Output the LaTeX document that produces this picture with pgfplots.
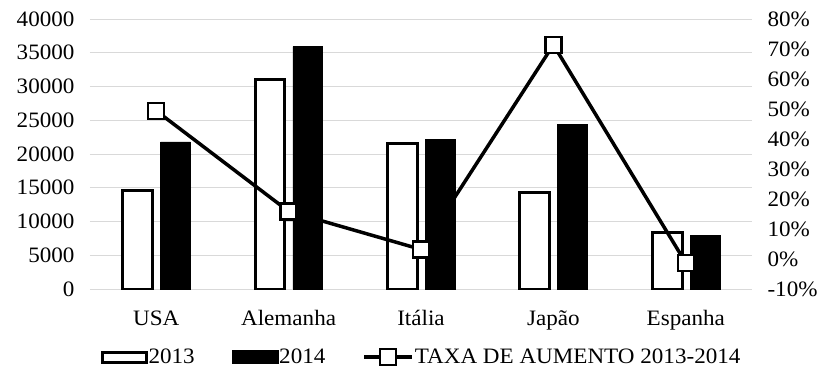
\documentclass[border=0pt]{standalone}
\usepackage{pgfplots}
\pgfplotsset{compat=1.18}
\usepackage{fontspec}
\setmainfont[FakeStretch=1.05]{Liberation Serif}

\newcommand{\chartfont}{\fontsize{22bp}{26bp}\selectfont}

\begin{document}
\begin{tikzpicture}
% Bars for 2013 and 2014, left axis
\begin{axis}[
  name=main,
  scale only axis, width=662bp, height=270bp,
  xmin=-0.5, xmax=4.5, ymin=0, ymax=40000,
  scaled y ticks=false,
  axis x line*=bottom, axis y line*=left,
  axis line style={draw=none}, tick style={draw=none},
  xtick={0,1,2,3,4},
  xticklabels={USA,Alemanha,Itália,Japão,Espanha},
  ytick={0,5000,...,40000},
  yticklabels={0,5000,10000,15000,20000,25000,30000,35000,40000},
  ymajorgrids, grid style={draw=black!15, line width=1bp},
  tick label style={font=\chartfont},
  xticklabel style={yshift=-18bp},
  yticklabel style={xshift=-12bp},
  legend columns=-1,
  legend style={at={(0.5,-0.252)}, anchor=center, draw=none, fill=none,
    inner sep=0pt, font=\chartfont, nodes={inner sep=1bp},
    /tikz/every even column/.append style={column sep=36bp}},
]
\addplot[ybar, bar width=0.225, bar shift=-0.14, fill=white, draw=black, line width=3bp,
  legend image code/.code={\draw[fill=white,draw=black,line width=3bp] (0bp,-5bp) rectangle (44bp,5bp);}]
  coordinates {(0,14600) (1,31000) (2,21600) (3,14300) (4,8300)};
\addplot[ybar, bar width=0.225, bar shift=0.145, fill=black, draw=black, line width=0.5bp,
  legend image code/.code={\fill[black] (0bp,-6.5bp) rectangle (46bp,6.5bp);}]
  coordinates {(0,21800) (1,35900) (2,22200) (3,24400) (4,8000)};
\addlegendimage{legend image code/.code={
  \draw[black,line width=3.5bp] (0bp,0bp) -- (48bp,0bp);
  \draw[fill=white,draw=black,line width=2.5bp] (16bp,-8bp) rectangle (32bp,8bp);}}
\legend{2013,2014,TAXA DE AUMENTO 2013-2014}
\end{axis}

% Growth rate line, right axis
\begin{axis}[
  scale only axis, width=662bp, height=270bp,
  xmin=-0.5, xmax=4.5, ymin=-10, ymax=80,
  axis y line*=right, axis x line=none,
  axis line style={draw=none}, tick style={draw=none},
  ytick={-10,0,...,80},
  yticklabels={-10\%,0\%,10\%,20\%,30\%,40\%,50\%,60\%,70\%,80\%},
  tick label style={font=\chartfont},
  yticklabel style={xshift=12bp},
]
\addplot[black, line width=3.5bp, mark=square*, mark size=8bp,
  mark options={fill=white, draw=black, line width=2.5bp}]
  coordinates {(0,49.4) (1,15.9) (2,3.2) (3,71.4) (4,-1.3)};
\end{axis}

\pgfresetboundingbox
\useasboundingbox ([shift={(-90bp,-80bp)}]main.south west) rectangle ([shift={(73bp,19bp)}]main.north east);
\end{tikzpicture}
\end{document}
